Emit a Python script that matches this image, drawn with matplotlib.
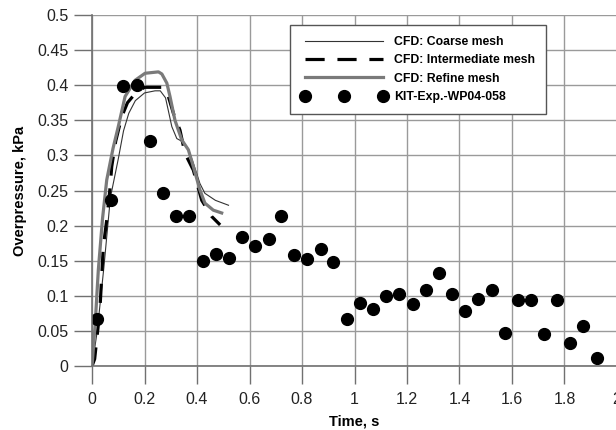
import matplotlib
matplotlib.use("Agg")
import matplotlib.pyplot as plt

plt.rcParams['font.family'] = ['Liberation Sans', 'DejaVu Sans']

# CFD: coarse mesh
coarse_t = [0, 0.02, 0.045, 0.07, 0.1, 0.12, 0.14, 0.165, 0.2, 0.24, 0.26, 0.28,
            0.29, 0.304, 0.323, 0.348, 0.367, 0.386, 0.411, 0.43, 0.47, 0.52]
coarse_p = [0, 0.05, 0.14, 0.24, 0.295, 0.335, 0.36, 0.378, 0.389, 0.392, 0.392, 0.382,
            0.365, 0.341, 0.324, 0.319, 0.309, 0.289, 0.26, 0.246, 0.236, 0.229]

# CFD: intermediate mesh
inter_t = [0, 0.01, 0.03, 0.043, 0.056, 0.069, 0.075, 0.09, 0.113, 0.135, 0.164, 0.2,
           0.27, 0.29, 0.31, 0.335, 0.354, 0.386, 0.418, 0.456, 0.488]
inter_p = [0, 0.01, 0.08, 0.17, 0.208, 0.255, 0.284, 0.32, 0.355, 0.375, 0.388, 0.397,
           0.397, 0.385, 0.36, 0.336, 0.303, 0.279, 0.236, 0.213, 0.201]

# CFD: refine mesh
fine_t = [0, 0.012, 0.024, 0.04, 0.056, 0.08, 0.1, 0.126, 0.164, 0.202, 0.253, 0.266,
          0.285, 0.297, 0.316, 0.342, 0.367, 0.386, 0.411, 0.43, 0.462, 0.494]
fine_p = [0, 0.06, 0.137, 0.21, 0.265, 0.31, 0.341, 0.384, 0.407, 0.417, 0.419, 0.416,
          0.403, 0.384, 0.35, 0.322, 0.308, 0.284, 0.251, 0.232, 0.222, 0.218]

# KIT experiment WP04-058
exp_t = [0.018, 0.072, 0.119, 0.17, 0.221, 0.269, 0.32, 0.37, 0.422, 0.471, 0.521,
         0.573, 0.621, 0.673, 0.72, 0.77, 0.818, 0.871, 0.919, 0.971, 1.02, 1.072,
         1.121, 1.171, 1.223, 1.272, 1.322, 1.37, 1.422, 1.472, 1.523, 1.573, 1.622,
         1.672, 1.722, 1.773, 1.822, 1.87, 1.923]
exp_p = [0.067, 0.236, 0.399, 0.4, 0.321, 0.246, 0.214, 0.214, 0.149, 0.16, 0.154,
         0.184, 0.171, 0.181, 0.214, 0.158, 0.152, 0.166, 0.148, 0.067, 0.09, 0.081,
         0.1, 0.103, 0.088, 0.108, 0.132, 0.102, 0.079, 0.096, 0.108, 0.047, 0.094,
         0.094, 0.045, 0.094, 0.033, 0.057, 0.011]

fig = plt.figure(figsize=(6.16, 4.30), dpi=100)
ax = fig.add_axes([0.1494, 0.1488, 0.8522, 0.8163])

ax.plot(coarse_t, coarse_p, color='#333333', lw=0.8, label='CFD: Coarse mesh')
ax.plot(inter_t, inter_p, color='black', lw=2.3, dashes=(6, 4),
        label='CFD: Intermediate mesh')
ax.plot(fine_t, fine_p, color='#7a7a7a', lw=2.3, label='CFD: Refine mesh')
ax.plot(exp_t, exp_p, 'o', color='black', ms=8.5, label='KIT-Exp.-WP04-058')

ax.set_xlim(0, 2)
ax.set_ylim(0, 0.5)
ax.set_xticks([0, 0.2, 0.4, 0.6, 0.8, 1, 1.2, 1.4, 1.6, 1.8, 2])
ax.set_xticklabels(['0', '0.2', '0.4', '0.6', '0.8', '1', '1.2', '1.4', '1.6', '1.8', '2'])
ax.set_yticks([0, 0.05, 0.1, 0.15, 0.2, 0.25, 0.3, 0.35, 0.4, 0.45, 0.5])
ax.set_yticklabels(['0', '0.05', '0.1', '0.15', '0.2', '0.25', '0.3', '0.35', '0.4',
                    '0.45', '0.5'])
ax.grid(True, color='#9a9a9a', lw=1)
ax.set_axisbelow(True)
for s in ['top', 'right']:
    ax.spines[s].set_visible(False)
for s in ['left', 'bottom']:
    ax.spines[s].set_color('#707070')
    ax.spines[s].set_linewidth(1.2)
ax.tick_params(direction='out', length=13, width=1, color='#707070',
               labelsize=11.5, labelcolor='#222222')
ax.tick_params(axis='x', pad=6)
ax.tick_params(axis='y', pad=4)

ax.set_xlabel('Time, s', fontsize=10.5, fontweight='bold', labelpad=5)
ax.set_ylabel('Overpressure, kPa', fontsize=10.5, fontweight='bold', labelpad=7)

leg = ax.legend(loc='upper left', bbox_to_anchor=(0.377, 0.972), borderaxespad=0,
                numpoints=3, handlelength=7.0, fancybox=False, framealpha=1,
                edgecolor='#555555', prop={'size': 8.8, 'weight': 'bold'},
                labelspacing=0.52, handletextpad=0.6, borderpad=0.9)
leg.get_frame().set_linewidth(1)

fig.savefig('out.png', dpi=100)
